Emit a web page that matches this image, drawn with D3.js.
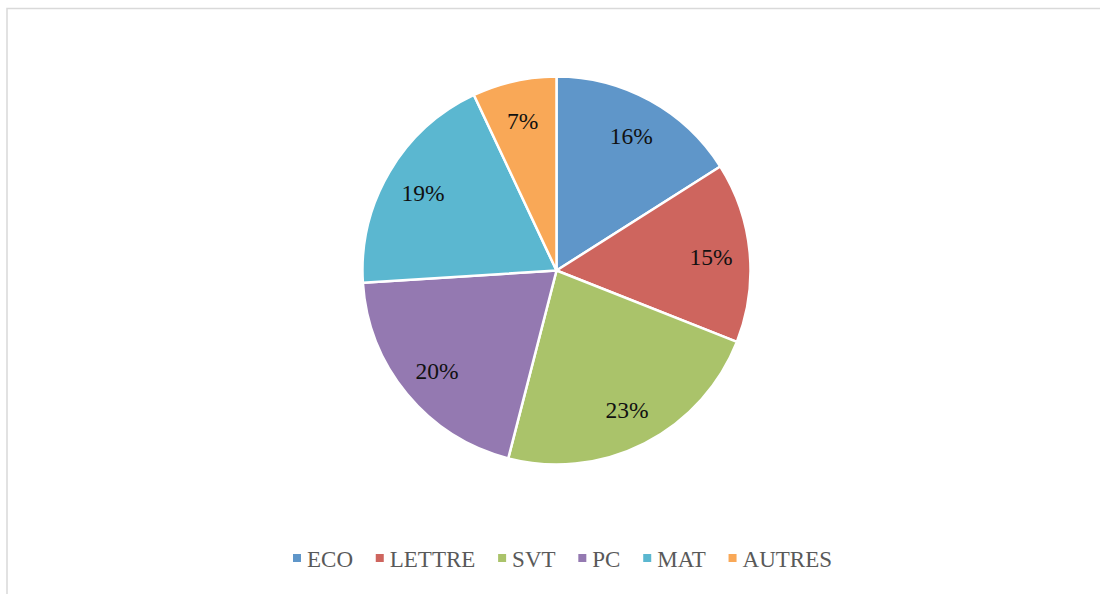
<!DOCTYPE html>
<html><head><meta charset="utf-8">
<script src="https://cdn.jsdelivr.net/npm/d3@7"></script>
<style>body{margin:0;background:#fff;}svg{display:block;}</style>
</head><body>
<svg id="c" width="1100" height="594"></svg>
<script>
const categories = ["ECO","LETTRE","SVT","PC","MAT","AUTRES"];
const values = [16,15,23,20,19,7];
const labels = ["16%","15%","23%","20%","19%","7%"];
const colors = ["#5F96C9","#CE655E","#AAC36A","#9479B1","#5BB7D0","#F9A857"];

const svg = d3.select("#c");
const font = "'Liberation Serif', serif";
// frame
svg.append("path").attr("d","M7,600 L7,8.5 L1110,8.5").attr("fill","none").attr("stroke","#d9d9d9").attr("stroke-width",1.5);

const cx = 556.5, cy = 270.5, r = 194;
const pie = d3.pie().sort(null).value(d=>d);
const arcs = pie(values);
const arc = d3.arc().innerRadius(0).outerRadius(r);
const labelArc = d3.arc().innerRadius(r*0.8).outerRadius(r*0.8);
const g = svg.append("g").attr("transform",`translate(${cx},${cy})`);
g.selectAll("path.s").data(arcs).join("path").attr("class","s")
  .attr("d",arc).attr("fill",(d,i)=>colors[i]).attr("stroke","#fff").attr("stroke-width",2.5).attr("stroke-linejoin","round");
g.selectAll("text").data(arcs).join("text")
  .attr("transform",d=>{const c=labelArc.centroid(d);return `translate(${c[0]},${c[1]+1.5})`;})
  .attr("text-anchor","middle").attr("dominant-baseline","central")
  .attr("font-family",font).attr("font-size",23.5).attr("fill","#111")
  .text((d,i)=>labels[i]);

// legend
const lg = svg.append("g");
const items = lg.selectAll("g").data(categories).join("g");
items.append("rect").attr("width",8).attr("height",8).attr("y",-4).attr("fill",(d,i)=>colors[i]);
items.append("text").attr("x",14).attr("dominant-baseline","central").attr("y",1)
  .attr("font-family",font).attr("font-size",23).attr("fill","#595959").text(d=>d);
const widths = [];
items.each(function(){ widths.push(14 + d3.select(this).select("text").node().getComputedTextLength()); });
const span = 832 - 293;
const gap = (span - d3.sum(widths)) / (categories.length - 1);
let x = 0;
items.each(function(d,i){ d3.select(this).attr("transform",`translate(${x},0)`); x += widths[i] + gap; });
lg.attr("transform",`translate(293,558)`);
</script>
</body></html>
